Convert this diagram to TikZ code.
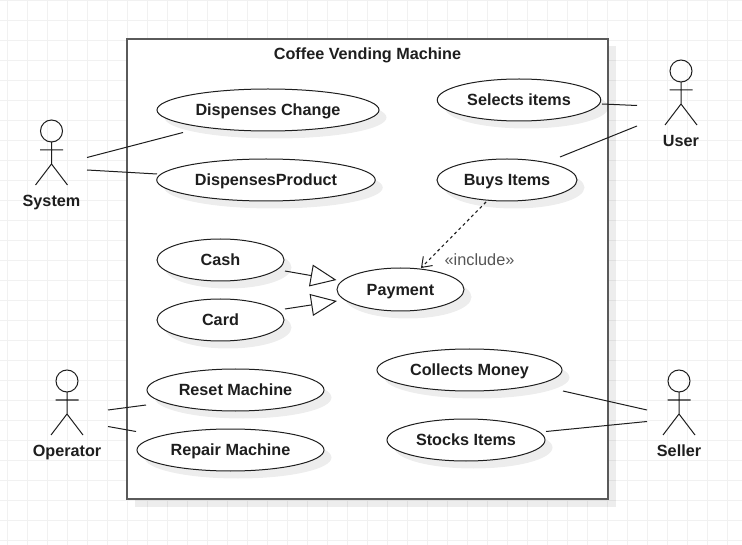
\documentclass[tikz,border=0pt]{standalone}
\usepackage{fontspec}
\setmainfont{Liberation Sans}
\usetikzlibrary{shapes.geometric,shadows,arrows.meta}
\definecolor{gridc}{HTML}{F1F1F1}
\definecolor{framec}{HTML}{5A5A5A}
\definecolor{linec}{HTML}{1E1E1E}
\definecolor{inclc}{HTML}{555555}
\tikzset{
  x=1pt,y=-1pt,
  every node/.style={font=\fontsize{16.2}{19}\selectfont\bfseries,text=linec},
  softshadow/.style={drop shadow={shadow xshift=7.5pt,shadow yshift=-7.5pt,fill=black,opacity=0.07}},
  usecase/.style={ellipse,draw=linec,line width=1pt,fill=white,inner sep=0pt,text height=12pt,text depth=0.6pt,softshadow},
  frame/.style={draw=framec,line width=2pt,fill=white,softshadow},
  stick/.style={draw=linec,line width=1pt},
  assoc/.style={draw=linec,line width=1pt},
  gen/.style={assoc,-{Triangle[open,length=26pt,width=22pt,fill=white,line width=1pt]}},
  incl/.style={draw=linec,line width=1.1pt,dash pattern=on 3pt off 3pt,-{Straight Barb[length=9pt,width=13pt,line width=1pt]}},
  label/.style={inner sep=0pt,text height=12pt,text depth=0.6pt}
}
\newcommand{\actorfig}[3]{% name, cx, head-centre y
  \draw[stick] (#2,#3) circle[radius=11];
  \draw[stick] (#2,#3+11) -- (#2,#3+33)
    (#2-11.5,#3+19) -- (#2+11.5,#3+19)
    (#2-16,#3+54) -- (#2,#3+33) -- (#2+16,#3+54);
}
\begin{document}
\begin{tikzpicture}
\useasboundingbox (0,0) rectangle (742,545);
\fill[white] (0,0) rectangle (742,545);
% background grid
\foreach \gx in {7,27,...,742}{\draw[gridc,line width=0.8pt] (\gx,0) -- (\gx,545);}
\foreach \gy in {0,20,...,545}{\draw[gridc,line width=0.8pt] (0,\gy) -- (742,\gy);}
% system boundary
\path[frame] (127,39) rectangle (608,499);
\node[label] (title) at (367.5,54) {Coffee Vending Machine};
% use cases
\node[usecase,minimum width=222pt,minimum height=42pt] (change) at (268,110) {Dispenses Change};
\node[usecase,minimum width=218.5pt,minimum height=42pt] (product) at (266,180) {DispensesProduct};
\node[usecase,minimum width=127pt,minimum height=42pt] (cash) at (220.5,260) {Cash};
\node[usecase,minimum width=127pt,minimum height=42pt] (card) at (220.5,320) {Card};
\node[usecase,minimum width=127pt,minimum height=43pt] (payment) at (400.5,289.5) {Payment};
\node[usecase,minimum width=163.5pt,minimum height=42pt] (selects) at (519,100) {Selects items};
\node[usecase,minimum width=140pt,minimum height=42pt] (buys) at (507,180) {Buys Items};
\node[usecase,minimum width=185pt,minimum height=42pt] (collects) at (469.5,370) {Collects Money};
\node[usecase,minimum width=158pt,minimum height=42pt] (stocks) at (466,440) {Stocks Items};
\node[usecase,minimum width=177pt,minimum height=42pt] (reset) at (235.5,390) {Reset Machine};
\node[usecase,minimum width=187pt,minimum height=42pt] (repair) at (230.5,450) {Repair Machine};
% actors
\actorfig{system}{51.5}{131}
\actorfig{user}{681}{71}
\actorfig{operator}{67}{381}
\actorfig{seller}{679}{381}
\node[label] (system) at (51.5,201) {System};
\node[label] (user) at (681,141) {User};
\node[label] (operator) at (67,451) {Operator};
\node[label] (seller) at (679,451) {Seller};
% free connector ends
\coordinate (sysA) at (87,157.5);
\coordinate (sysB) at (87,170);
\coordinate (chgA) at (183,132.5);
\coordinate (prdA) at (157,174);
\coordinate (usrA) at (637,105.5);
\coordinate (usrB) at (637,126);
\coordinate (selA) at (602,104);
\coordinate (buyA) at (560,157);
\coordinate (buyB) at (486,202);
\coordinate (payA) at (421,268);
\coordinate (cshA) at (285,271);
\coordinate (payB) at (336.5,280);
\coordinate (crdA) at (285,309);
\coordinate (payC) at (337,301);
\coordinate (opA) at (108,410);
\coordinate (opB) at (108,426.5);
\coordinate (rstA) at (146,405);
\coordinate (rprA) at (136,431.5);
\coordinate (selrA) at (647,410);
\coordinate (selrB) at (647,421.5);
\coordinate (colA) at (563,391);
\coordinate (stkA) at (546,431.5);
% associations
\draw[assoc] (sysA) -- (chgA);
\draw[assoc] (sysB) -- (prdA);
\draw[assoc] (selA) -- (usrA);
\draw[assoc] (buyA) -- (usrB);
\draw[assoc] (opA) -- (rstA);
\draw[assoc] (opB) -- (rprA);
\draw[assoc] (colA) -- (selrA);
\draw[assoc] (stkA) -- (selrB);
% generalisations and include
\draw[gen] (cshA) -- (payB);
\draw[gen] (crdA) -- (payC);
\draw[incl] (buyB) -- (payA);
\node[label,font=\fontsize{16.3}{19}\selectfont,text=inclc] (include) at (479.5,260) {«include»};
\end{tikzpicture}
\end{document}
